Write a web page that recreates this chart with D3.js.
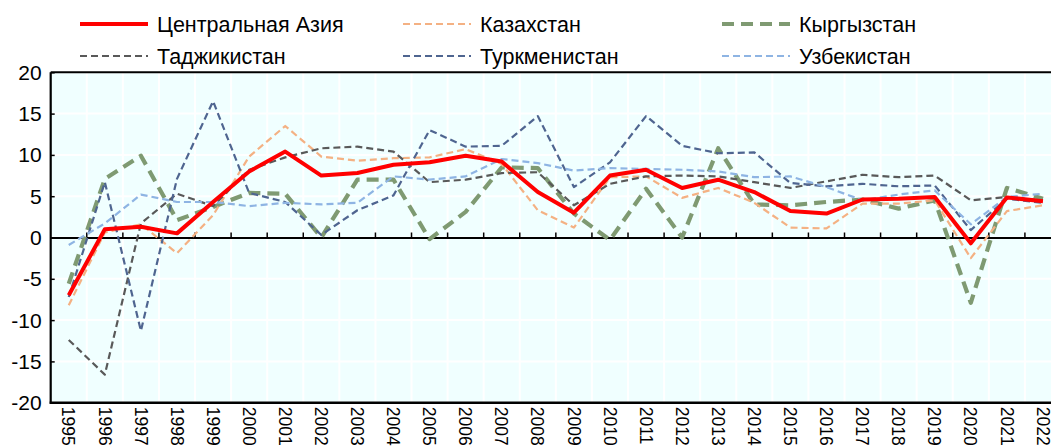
<!DOCTYPE html>
<html><head><meta charset="utf-8">
<script src="https://cdn.jsdelivr.net/npm/d3@7"></script>
<style>
html,body{margin:0;padding:0;background:#fff;overflow:hidden}
svg{display:block}
text{font-family:"Liberation Sans",Arial,sans-serif;fill:#000}
</style></head><body>
<svg id="c" width="1051" height="446"></svg>
<script>
const years = ["1995","1996","1997","1998","1999","2000","2001","2002","2003","2004","2005","2006","2007","2008","2009","2010","2011","2012","2013","2014","2015","2016","2017","2018","2019","2020","2021П","2022П"];
const yTicks = [-20,-15,-10,-5,0,5,10,15,20];

const centralAsia = [-7.0,1.0,1.3,0.5,4.3,8.0,10.4,7.5,7.8,8.8,9.1,9.9,9.2,5.5,3.0,7.5,8.2,6.0,7.0,5.5,3.2,2.9,4.6,4.7,4.9,-0.7,4.85,4.4];
const kazakhstan = [-8.2,0.6,1.6,-1.9,2.7,9.8,13.5,9.8,9.3,9.6,9.7,10.7,8.9,3.3,1.2,7.3,7.4,4.8,6.0,4.2,1.2,1.1,4.1,4.1,4.5,-2.5,3.2,3.9];
const kyrgyzstan = [-5.6,7.1,9.9,2.1,3.7,5.4,5.3,0.0,7.0,7.0,-0.2,3.1,8.5,8.4,2.9,-0.3,5.9,0.0,10.8,4.0,3.9,4.3,4.6,3.5,4.5,-7.9,6.0,4.7];
const tajikistan = [-12.4,-16.6,1.7,5.3,3.8,8.2,9.7,10.8,11.0,10.4,6.7,7.0,7.8,7.9,3.9,6.5,7.4,7.5,7.4,6.7,6.0,6.8,7.6,7.3,7.5,4.5,4.9,4.5];
const turkmenistan = [-7.2,6.7,-11.3,7.1,16.5,5.4,4.3,0.3,3.3,5.1,13.0,11.0,11.1,14.7,6.1,9.1,14.7,11.1,10.2,10.3,6.6,6.2,6.5,6.2,6.3,0.9,4.7,4.2];
const uzbekistan = [-0.9,1.7,5.2,4.3,4.3,3.8,4.2,4.0,4.2,7.4,7.0,7.4,9.5,9.0,8.1,8.4,8.3,8.2,8.0,7.3,7.4,6.1,4.5,5.2,5.7,1.6,4.9,5.3];

const seriesNames = ["Центральная Азия","Казахстан","Кыргызстан","Таджикистан","Туркменистан","Узбекистан"];
const seriesValues = [centralAsia,kazakhstan,kyrgyzstan,tajikistan,turkmenistan,uzbekistan];
const styles = [
  {color:"#FF0000", width:4, dash:null},
  {color:"#F4B183", width:2.2, dash:"7,4"},
  {color:"#7F9A72", width:4.2, dash:"12,7"},
  {color:"#595959", width:2.2, dash:"7,4"},
  {color:"#4F6590", width:2.2, dash:"7,4"},
  {color:"#8EB4E3", width:2.2, dash:"7,4"}
];
const drawOrder = [2,1,3,4,5,0];

const svg = d3.select("#c");
const L = 50.7, R = 1061, T = 72.3, B = 402.7;

const x = d3.scaleBand().domain(years).range([L,R]).paddingInner(0).paddingOuter(0);
const y = d3.scaleLinear().domain([-20,20]).range([B,T]);

svg.append("rect").attr("x",L).attr("y",T).attr("width",R-L).attr("height",B-T).attr("fill","#F0FFFF");

const g = svg.append("g");
g.selectAll(".hg").data(yTicks).join("line")
  .attr("x1",L).attr("x2",R).attr("y1",d=>y(d)).attr("y2",d=>y(d))
  .attr("stroke","#fff").attr("stroke-width",2);
g.selectAll(".vg").data(years.slice(1)).join("line")
  .attr("x1",d=>x(d)).attr("x2",d=>x(d)).attr("y1",T).attr("y2",B)
  .attr("stroke","#fff").attr("stroke-width",2);

const yAxis = svg.append("g").attr("transform",`translate(${L},0)`)
  .call(d3.axisRight(y).tickValues(yTicks).tickSize(4).tickFormat(""));
yAxis.select(".domain").remove();
yAxis.selectAll(".tick line").attr("stroke","#000").attr("stroke-width",1.5);
svg.selectAll(".ylab").data(yTicks).join("text")
  .attr("x",L-9).attr("y",d=>y(d)).attr("dy","0.36em")
  .attr("text-anchor","end").style("font-size","21px").text(d=>d);

svg.append("line").attr("x1",L).attr("x2",L).attr("y1",T).attr("y2",B+1).attr("stroke","#000").attr("stroke-width",2.2);
svg.append("line").attr("x1",L).attr("x2",R).attr("y1",T).attr("y2",T).attr("stroke","#000").attr("stroke-width",2);
svg.append("line").attr("x1",L-1).attr("x2",R).attr("y1",B).attr("y2",B).attr("stroke","#000").attr("stroke-width",2.5);

const xAxis = svg.append("g").attr("transform",`translate(0,${y(0)})`)
  .call(d3.axisTop(x).tickSize(0).tickFormat(""));
xAxis.select(".domain").attr("stroke","#000").attr("stroke-width",2);
svg.selectAll(".xt").data(years.slice(1)).join("line")
  .attr("x1",d=>x(d)).attr("x2",d=>x(d)).attr("y1",y(0)).attr("y2",y(0)-5)
  .attr("stroke","#000").attr("stroke-width",1.5);

svg.selectAll(".xlab").data(years).join("text")
  .attr("transform",d=>`translate(${x(d)+x.bandwidth()/2},${B+4}) rotate(90)`)
  .attr("dy","0.36em").attr("text-anchor","start").style("font-size","17.5px").text(d=>d);

const line = d3.line().x((d,i)=>x(years[i])+x.bandwidth()/2).y(d=>y(d));
const lg = svg.append("g");
drawOrder.forEach(k=>{
  const s = styles[k];
  lg.append("path").datum(seriesValues[k]).attr("d",line)
    .attr("fill","none").attr("stroke",s.color).attr("stroke-width",s.width)
    .attr("stroke-dasharray",s.dash).attr("stroke-linejoin","round");
});

const legPos = [[80,24],[403,24],[722,24],[80,56],[403,56],[722,56]];
seriesNames.forEach((n,k)=>{
  const [lx,ly] = legPos[k]; const s = styles[k];
  svg.append("line").attr("x1",lx).attr("x2",lx+68).attr("y1",ly).attr("y2",ly)
    .attr("stroke",s.color).attr("stroke-width",s.width).attr("stroke-dasharray",s.dash);
  svg.append("text").attr("x",lx+77).attr("y",ly).attr("dy","0.36em")
    .style("font-size","21.5px").text(n);
});
</script></body></html>
